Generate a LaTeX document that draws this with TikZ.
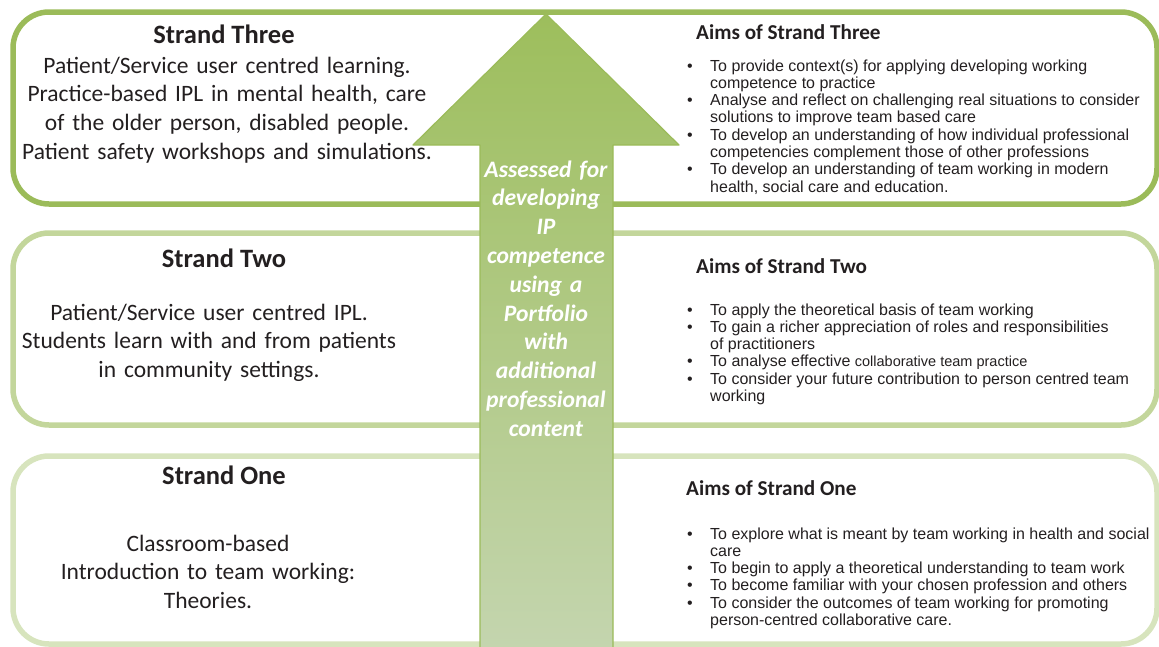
\documentclass[tikz,border=0pt]{standalone}
\usepackage{fontspec}
\setmainfont{Carlito}
\newfontfamily\arialfont{Liberation Sans}
\definecolor{strthree}{HTML}{9BBB59}
\definecolor{strtwo}{HTML}{C3D69B}
\definecolor{strone}{HTML}{D7E4BD}
\definecolor{arrtop}{HTML}{9DBE5C}
\definecolor{arrbot}{HTML}{C4D5AF}
\definecolor{txt}{HTML}{231F20}
\newcommand{\aim}[1]{\par\noindent\hangindent=23pt\hangafter=1\makebox[23pt][l]{\textbullet}#1}
\newcommand{\aimlist}[1]{\begin{minipage}[t]{480pt}\raggedright\arialfont\fontsize{16}{17.3}\selectfont#1\end{minipage}}
\begin{document}
\begin{tikzpicture}[x=1pt, y=-1pt, line join=round, text=txt,
 strand/.style={rounded corners=36pt, line width=5.5pt},
 title/.style={anchor=base, inner sep=0, font=\fontsize{26.5}{30}\selectfont\bfseries},
 body/.style={anchor=base, inner sep=0, text width=440pt, align=center, font=\fontsize{23.5}{28.7}\selectfont},
 head/.style={anchor=base west, inner sep=0, font=\fontsize{21.2}{24}\selectfont\bfseries},
 aims/.style={anchor=base west, inner sep=0}]
 \def\xl{224} \def\xh{696} \def\xa{687}
 \useasboundingbox (0,0) rectangle (1159,646);
 \draw[strand, strthree] (13,12) rectangle (1157,204);
 \draw[strand, strtwo] (13,233) rectangle (1157,425);
 \draw[strand, strone] (13,456) rectangle (1157,644);
 \shadedraw[top color=arrtop, bottom color=arrbot, draw=strthree, line width=1.2pt]
  (546,14) -- (413,145) -- (480,145) -- (480,652) -- (613,652) -- (613,145) -- (679,145) -- cycle;
 % strand three
 \node[title] (t3) at (\xl,43) {Strand Three};
 \node[body] (b3) at (227,73) {Patient/Service user centred learning.\\ Practice-based IPL in mental health, care\\ of the older person, disabled people.\\ Patient safety workshops and simulations.};
 \node[head] (h3) at (\xh,39) {Aims of Strand Three};
 \node[aims] (a3) at (\xa,71) {\aimlist{\aim{To provide context(s) for applying developing working\newline competence to practice}
  \aim{Analyse and reflect on challenging real situations to consider\newline solutions to improve team based care}
  \aim{To develop an understanding of how individual professional\newline competencies complement those of other professions}
  \aim{To develop an understanding of team working in modern\newline health, social care and education.}}};
 % strand two
 \node[title] (t2) at (\xl,267) {Strand Two};
 \node[body] (b2) at (209,320) {Patient/Service user centred IPL.\\ Students learn with and from patients\\ in community settings.};
 \node[head] (h2) at (\xh,273) {Aims of Strand Two};
 \node[aims] (a2) at (\xa,315) {\aimlist{\aim{To apply the theoretical basis of team working}
  \aim{To gain a richer appreciation of roles and responsibilities\newline of practitioners}
  \aim{To analyse effective {\fontsize{14.5}{17.3}\selectfont collaborative team practice}}
  \aim{To consider your future contribution to person centred team\newline working}}};
 % strand one
 \node[title] (t1) at (\xl,484) {Strand One};
 \node[body] (b1) at (208,551) {Classroom-based\\ Introduction to team working:\\ Theories.};
 \node[head] (h1) at (686,495) {Aims of Strand One};
 \node[aims] (a1) at (\xa,539) {\aimlist{\aim{To explore what is meant by team working in health and social\newline care}
  \aim{To begin to apply a theoretical understanding to team work}
  \aim{To become familiar with your chosen profession and others}
  \aim{To consider the outcomes of team working for promoting\newline person-centred collaborative care.}}};
 % arrow text
 \node[anchor=base, inner sep=0, text width=130pt, align=center, text=white,
  font=\fontsize{23.6}{28.8}\selectfont\bfseries\itshape] (ass) at (546,177)
  {Assessed for\\ developing\\ IP\\ competence\\ using a\\ Portfolio\\ with\\ additional\\ professional\\ content};
\end{tikzpicture}
\end{document}
